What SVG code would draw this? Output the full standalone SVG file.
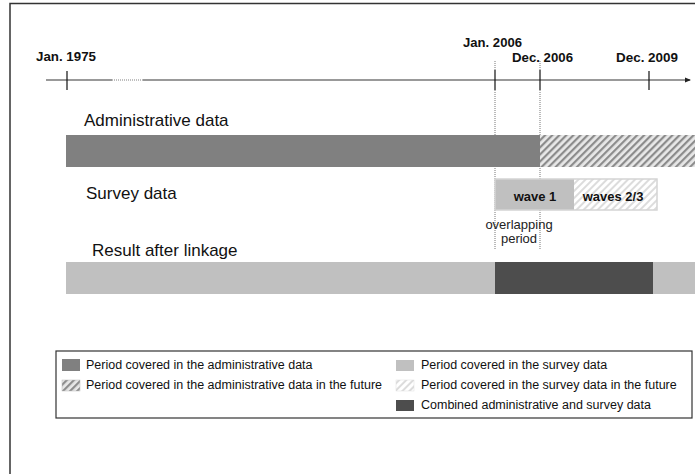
<svg xmlns="http://www.w3.org/2000/svg" width="695" height="474" viewBox="0 0 695 474">
<defs>
<pattern id="hatchDark" patternUnits="userSpaceOnUse" width="5" height="5" patternTransform="rotate(45)">
<rect width="5" height="5" fill="#e8e8e8"/>
<rect width="2.2" height="5" fill="#8c8c8c"/>
</pattern>
<pattern id="hatchLight" patternUnits="userSpaceOnUse" width="5" height="5" patternTransform="rotate(45)">
<rect width="5" height="5" fill="#ffffff"/>
<rect width="2" height="5" fill="#dcdcdc"/>
</pattern>
<marker id="arrow" markerWidth="6" markerHeight="6" refX="5" refY="3" orient="auto" markerUnits="userSpaceOnUse">
<path d="M0,0.5 L6,3 L0,5.5 Z" fill="#222"/>
</marker>
<style>
.date{font-family:"Liberation Sans",Arial,sans-serif;font-weight:bold;font-size:12.5px;fill:#111}
.row{font-family:"Liberation Sans",Arial,sans-serif;font-size:17px;fill:#111}
.wave{font-family:"Liberation Sans",Arial,sans-serif;font-weight:bold;font-size:13px;fill:#111;text-anchor:middle}
.note{font-family:"Liberation Sans",Arial,sans-serif;font-size:13px;fill:#222;text-anchor:middle}
.leg{font-family:"Liberation Sans",Arial,sans-serif;font-size:12.5px;fill:#111}
.tick{stroke:#111;stroke-width:1.2}
.dot{stroke:#777;stroke-width:1;stroke-dasharray:1,1}
</style>
</defs>
<rect x="0" y="0" width="695" height="474" fill="#ffffff"/>
<rect id="frame" x="10" y="3.5" width="700" height="480" fill="none" stroke="#333" stroke-width="1.5"/>

<g id="timeline">
<line x1="46" y1="80" x2="112" y2="80" stroke="#777" stroke-width="1.5"/>
<line x1="112" y1="80" x2="143" y2="80" stroke="#aaa" stroke-width="1.5" stroke-dasharray="1,1"/>
<line x1="143" y1="80" x2="690" y2="80" stroke="#777" stroke-width="1.5" marker-end="url(#arrow)"/>
<line class="tick" x1="67" y1="71" x2="67" y2="90" stroke="#777"/>
<line class="tick" x1="495" y1="70" x2="495" y2="90"/>
<line class="tick" x1="540" y1="70" x2="540" y2="90"/>
<line class="tick" x1="649" y1="71" x2="649" y2="90"/>
<text class="date" x="36" y="61" textLength="60" lengthAdjust="spacingAndGlyphs">Jan. 1975</text>
<text class="date" x="463" y="47" textLength="59" lengthAdjust="spacingAndGlyphs">Jan. 2006</text>
<text class="date" x="512" y="62" textLength="61" lengthAdjust="spacingAndGlyphs">Dec. 2006</text>
<text class="date" x="616" y="62" textLength="62" lengthAdjust="spacingAndGlyphs">Dec. 2009</text>
</g>

<g id="connectors">
<line class="dot" x1="495" y1="61" x2="495" y2="70"/>
<line class="dot" x1="495" y1="90" x2="495" y2="250"/>
<line class="dot" x1="540" y1="61" x2="540" y2="70"/>
<line class="dot" x1="540" y1="90" x2="540" y2="250"/>
</g>

<g id="admin">
<text class="row" x="84" y="126">Administrative data</text>
<rect x="66" y="135" width="474" height="32" fill="#808080"/>
<rect x="540" y="135" width="160" height="32" fill="url(#hatchDark)"/>
</g>

<g id="survey">
<text class="row" x="86" y="199">Survey data</text>
<rect x="495" y="179" width="79" height="31" fill="#c0c0c0"/>
<rect x="574" y="179" width="83" height="31" fill="url(#hatchLight)"/>
<rect x="495" y="179" width="162" height="31" fill="none" stroke="#d4d4d4" stroke-width="1.5"/>
<text class="wave" x="535" y="201">wave 1</text>
<text class="wave" x="613" y="201">waves 2/3</text>
<text class="note" x="519" y="229">overlapping</text>
<text class="note" x="519" y="243">period</text>
</g>

<g id="result">
<text class="row" x="92" y="256">Result after linkage</text>
<rect x="66" y="262" width="429" height="32" fill="#c0c0c0"/>
<rect x="495" y="262" width="158" height="32" fill="#4d4d4d"/>
<rect x="653" y="262" width="50" height="32" fill="#c0c0c0"/>
</g>

<g id="legend">
<rect x="56" y="351" width="636" height="67" fill="#ffffff" stroke="#333" stroke-width="1.2"/>
<rect x="62" y="359" width="18" height="12" fill="#808080"/>
<text class="leg" x="86" y="369">Period covered in the administrative data</text>
<rect x="62" y="380" width="18" height="11" fill="url(#hatchDark)" stroke="#bbb" stroke-width="0.5"/>
<text class="leg" x="86" y="389">Period covered in the administrative data in the future</text>
<rect x="396" y="360" width="18" height="11" fill="#c0c0c0"/>
<text class="leg" x="421" y="369">Period covered in the survey data</text>
<rect x="396" y="380" width="18" height="11" fill="url(#hatchLight)" stroke="#ddd" stroke-width="0.5"/>
<text class="leg" x="421" y="389">Period covered in the survey data in the future</text>
<rect x="396" y="400" width="18" height="11" fill="#4d4d4d"/>
<text class="leg" x="421" y="409">Combined administrative and survey data</text>
</g>
</svg>
